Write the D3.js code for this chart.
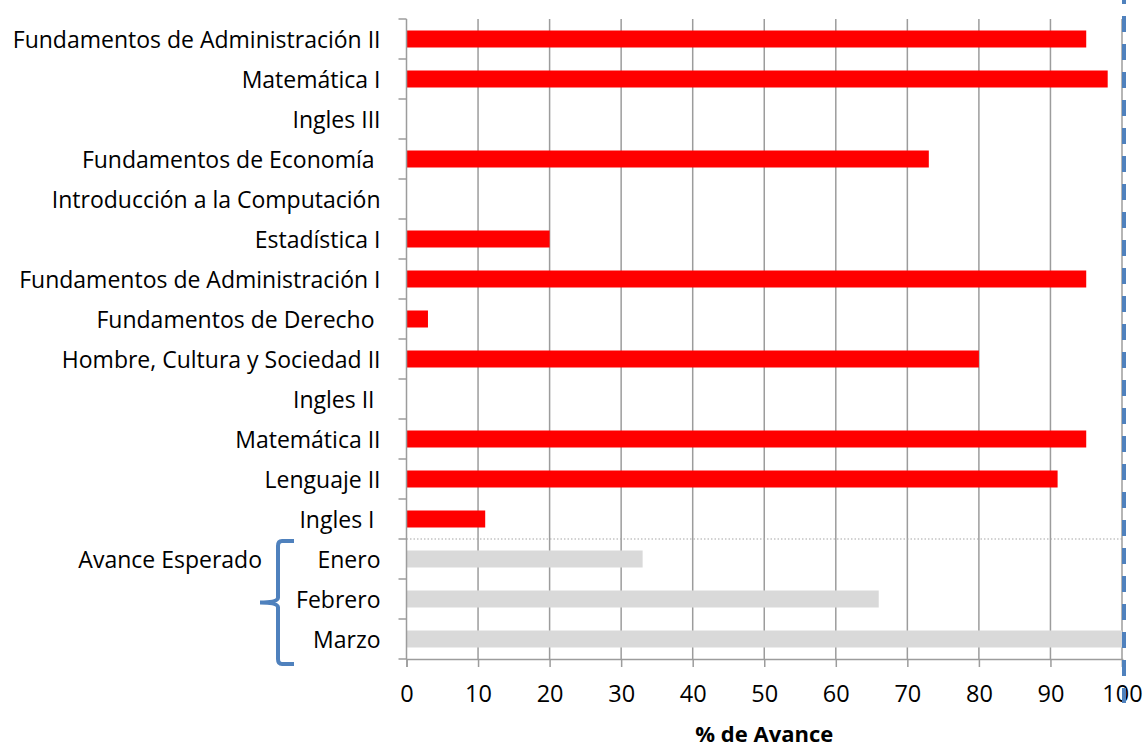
<!DOCTYPE html>
<html>
<head>
<meta charset="utf-8">
<script src="https://cdn.jsdelivr.net/npm/d3@7"></script>
<style>
  body { margin: 0; background: #fff; }
  text { font-family: "Open Sans", Lato, sans-serif; }
</style>
</head>
<body>
<div id="chart"></div>
<script>
// categories top to bottom
const materias = ["Fundamentos de Administración II", "Matemática I", "Ingles III",
    "Fundamentos de Economía ", "Introducción a la Computación", "Estadística I",
    "Fundamentos de Administración I", "Fundamentos de Derecho ", "Hombre, Cultura y Sociedad II",
    "Ingles II ", "Matemática II", "Lenguaje II", "Ingles I "];
const avance = [95, 98, 0, 73, 0, 20, 95, 3, 80, 0, 95, 91, 11];
const meses = ["Enero", "Febrero", "Marzo"];
const esperado = [33, 66, 100];
const xTicks = [0, 10, 20, 30, 40, 50, 60, 70, 80, 90, 100];
const xTitle = "% de Avance";
const groupLabel = "Avance Esperado";

const width = 1148, height = 747;
const margin = {top: 19, left: 406.5, right: 26, bottom: 88};
const w = width - margin.left - margin.right, h = height - margin.top - margin.bottom;

const rows = materias.map((m, i) => ({name: m, value: avance[i], color: "#ff0000"}))
    .concat(meses.map((m, i) => ({name: m, value: esperado[i], color: "#d9d9d9"})));

const svg = d3.select("#chart").append("svg")
    .attr("width", width).attr("height", height)
  .append("g")
    .attr("transform", "translate(" + margin.left + "," + margin.top + ")");

const x = d3.scaleLinear().domain([0, 100]).range([0, w]);
const y = d3.scaleBand().domain(rows.map(d => d.name)).range([0, h]).paddingInner(0.575).paddingOuter(0.2875);

// vertical gridlines
svg.selectAll(".grid").data(xTicks.slice(1)).enter().append("line")
    .attr("x1", d => x(d)).attr("x2", d => x(d))
    .attr("y1", 0).attr("y2", h)
    .attr("stroke", "#9c9c9c").attr("stroke-width", 1.5);

// bars
svg.selectAll(".bar").data(rows).enter().append("rect")
    .attr("x", 0)
    .attr("y", d => y(d.name))
    .attr("width", d => x(d.value))
    .attr("height", y.bandwidth())
    .attr("fill", d => d.color);

// dotted separator between subjects and expected progress
const sepY = h * materias.length / rows.length;
svg.append("line")
    .attr("x1", 0).attr("x2", x(100))
    .attr("y1", sepY).attr("y2", sepY)
    .attr("stroke", "#a6a6a6").attr("stroke-width", 1.2).attr("stroke-dasharray", "1.5,2");

// y axis with ticks at band boundaries
svg.append("line").attr("x1", 0).attr("x2", 0).attr("y1", 0).attr("y2", h)
    .attr("stroke", "#9c9c9c").attr("stroke-width", 1.5);
svg.selectAll(".ytick").data(d3.range(rows.length + 1)).enter().append("line")
    .attr("x1", -8).attr("x2", 0)
    .attr("y1", d => d * h / rows.length).attr("y2", d => d * h / rows.length)
    .attr("stroke", "#9c9c9c").attr("stroke-width", 1.5);
svg.selectAll(".ylab").data(rows).enter().append("text")
    .attr("x", -26)
    .attr("y", d => y(d.name) + y.bandwidth() / 2)
    .attr("dy", "0.37em")
    .attr("text-anchor", "end")
    .style("white-space", "pre")
    .style("font-size", "23px")
    .attr("fill", "#000")
    .text(d => d.name);

// x axis
const xAxis = svg.append("g")
    .attr("transform", "translate(0," + h + ")")
    .call(d3.axisBottom(x).tickValues(xTicks).tickSize(8).tickPadding(18));
xAxis.select(".domain").attr("stroke", "#9c9c9c").attr("stroke-width", 1.5);
xAxis.selectAll(".tick line").attr("stroke", "#9c9c9c").attr("stroke-width", 1.5);
xAxis.selectAll("text").style("font-size", "23.5px").style("font-family", "'Open Sans', sans-serif").attr("fill", "#000");

svg.append("text")
    .attr("x", w / 2).attr("y", h + 83)
    .attr("text-anchor", "middle")
    .style("font-size", "22px").style("font-weight", "bold")
    .text(xTitle);

// expected progress bracket
const bTop = sepY + 2, bBot = h + 5, bMid = (bTop + bBot) / 2;
const bx = -128.5, tip = -146.5;
svg.append("path")
    .attr("d", "M" + (bx + 16) + "," + bTop + " L" + (bx + 4) + "," + bTop +
        " Q" + bx + "," + bTop + " " + bx + "," + (bTop + 5) +
        " L" + bx + "," + (bMid - 5) + " Q" + bx + "," + bMid + " " + tip + "," + bMid +
        " Q" + bx + "," + bMid + " " + bx + "," + (bMid + 5) +
        " L" + bx + "," + (bBot - 5) + " Q" + bx + "," + bBot + " " + (bx + 4) + "," + bBot +
        " L" + (bx + 16) + "," + bBot)
    .attr("fill", "none").attr("stroke", "#4f81bd").attr("stroke-width", 4);
svg.append("text")
    .attr("x", -144.5).attr("y", y("Enero") + y.bandwidth() / 2).attr("dy", "0.37em")
    .attr("text-anchor", "end")
    .style("font-size", "23px")
    .text(groupLabel);

// blue dashed line at 100%
svg.append("line")
    .attr("x1", x(100) + 2).attr("x2", x(100) + 2)
    .attr("y1", -margin.top - 12).attr("y2", h + 44)
    .attr("stroke", "#4f81bd").attr("stroke-width", 4).attr("stroke-dasharray", "16,12");
</script>
</body>
</html>
